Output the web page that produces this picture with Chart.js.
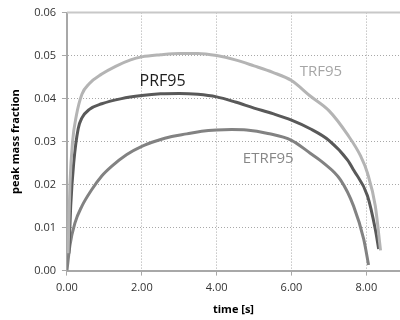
<!DOCTYPE html>
<html>
<head>
<meta charset="utf-8">
<script src="https://cdn.jsdelivr.net/npm/chart.js@4"></script>
<style>
  html, body { margin: 0; padding: 0; background: #fff; }
  #wrap { width: 400px; height: 320px; }
</style>
</head>
<body>
<div id="wrap"><canvas id="myChart" width="400" height="320"></canvas></div>
<script>
// time [s] and peak mass fraction for each curve
var trfTime = [0.03, 0.08, 0.15, 0.25, 0.4, 0.6, 0.93, 1.3, 1.7, 2.0, 2.5, 3.0, 3.5, 4.0, 4.5, 5.0, 5.5, 6.0, 6.5, 7.0, 7.5, 7.85, 8.03, 8.24, 8.38];
var trfValues = [0.004, 0.02, 0.03, 0.036, 0.041, 0.0435, 0.0457, 0.0475, 0.049, 0.0497, 0.0502, 0.0505, 0.0505, 0.050, 0.049, 0.0476, 0.0461, 0.0442, 0.0406, 0.0372, 0.0316, 0.0266, 0.0227, 0.015, 0.0047];

var prfTime = [0.05, 0.1, 0.18, 0.3, 0.4, 0.6, 0.93, 1.46, 2.0, 2.5, 3.0, 3.5, 4.0, 4.5, 5.0, 5.5, 6.0, 6.5, 7.0, 7.5, 7.66, 8.03, 8.24, 8.33];
var prfValues = [0.004, 0.015, 0.025, 0.033, 0.0355, 0.0375, 0.0388, 0.040, 0.0407, 0.0411, 0.0412, 0.0410, 0.0404, 0.0392, 0.0378, 0.0365, 0.035, 0.033, 0.0303, 0.0257, 0.0234, 0.0174, 0.0096, 0.005];

var etrfTime = [0.0, 0.08, 0.21, 0.4, 0.66, 0.93, 1.2, 1.6, 2.0, 2.4, 2.8, 3.2, 3.6, 4.0, 4.4, 4.8, 5.37, 6.0, 6.5, 6.86, 7.31, 7.66, 7.93, 8.06];
var etrfValues = [0.0, 0.0059, 0.011, 0.015, 0.0188, 0.022, 0.0243, 0.027, 0.0289, 0.0302, 0.0312, 0.0318, 0.0324, 0.0327, 0.0328, 0.0327, 0.0319, 0.0303, 0.0273, 0.025, 0.0211, 0.015, 0.0073, 0.0013];

var xTicks = [0, 2, 4, 6, 8];
var yTicks = [0, 0.01, 0.02, 0.03, 0.04, 0.05, 0.06];

// curve names and where they are written
var labelNames = ['TRF95', 'PRF95', 'ETRF95'];
var labelAt = [[6.22, 0.0462], [1.94, 0.0441], [4.7, 0.0259]];

function toPoints(xs, ys) {
    var pts = [];
    for (var i = 0; i < xs.length; i++) pts.push({ x: xs[i], y: ys[i] });
    return pts;
}

var colors = ['#b4b4b4', '#595959', '#828282'];
var labelColors = ['#a6a6a6', '#1e1e1e', '#878787'];
var labelSizes = [15, 16, 15];

var curveLabels = {
    id: 'curveLabels',
    afterDatasetsDraw: function (chart) {
        var ctx = chart.ctx;
        var xs = chart.scales.x, ys = chart.scales.y;
        ctx.save();
        ctx.textBaseline = 'middle';
        ctx.textAlign = 'left';
        for (var i = 0; i < labelNames.length; i++) {
            ctx.font = labelSizes[i] + 'px "Open Sans", sans-serif';
            ctx.fillStyle = labelColors[i];
            ctx.fillText(labelNames[i], xs.getPixelForValue(labelAt[i][0]), ys.getPixelForValue(labelAt[i][1]));
        }
        ctx.restore();
    }
};

var frame = {
    id: 'frame',
    beforeDatasetsDraw: function (chart) {
        var a = chart.chartArea, ctx = chart.ctx;
        ctx.save();
        ctx.strokeStyle = '#c8c8c8';
        ctx.lineWidth = 2;
        ctx.beginPath();
        ctx.moveTo(a.left, a.top);
        ctx.lineTo(a.right, a.top);
        ctx.stroke();
        ctx.restore();
    }
};

var tickFont = { family: '"Open Sans", sans-serif', size: 11 };
var titleFont = { family: '"Open Sans", sans-serif', size: 11, weight: 'bold' };

var ctx = document.getElementById('myChart').getContext('2d');
var myChart = new Chart(ctx, {
    type: 'line',
    data: {
        datasets: [
            { label: 'TRF95', data: toPoints(trfTime, trfValues), borderColor: colors[0] },
            { label: 'PRF95', data: toPoints(prfTime, prfValues), borderColor: colors[1] },
            { label: 'ETRF95', data: toPoints(etrfTime, etrfValues), borderColor: colors[2] }
        ]
    },
    options: {
        responsive: false,
        animation: false,
        layout: { padding: { left: 9, right: 0, top: 1, bottom: 4 } },
        elements: {
            point: { radius: 0 },
            line: { borderWidth: 3, cubicInterpolationMode: 'monotone', fill: false }
        },
        plugins: {
            legend: { display: false },
            tooltip: { enabled: false }
        },
        scales: {
            x: {
                type: 'linear',
                min: 0,
                max: 8.9,
                afterBuildTicks: function (axis) {
                    axis.ticks = xTicks.map(function (v) { return { value: v }; });
                },
                ticks: {
                    color: '#333',
                    font: tickFont,
                    padding: 6,
                    maxRotation: 0,
                    callback: function (v) { return v.toFixed(2); }
                },
                grid: { color: '#a8a8a8', lineWidth: 1, tickLength: 5, tickBorderDash: [] },
                border: { display: true, color: '#a8a8a8', width: 2, dash: [1, 2] },
                title: {
                    display: true,
                    text: 'time [s]',
                    color: '#000',
                    font: titleFont,
                    padding: { top: 2, bottom: 0 }
                }
            },
            y: {
                min: 0,
                max: 0.06,
                afterBuildTicks: function (axis) {
                    axis.ticks = yTicks.map(function (v) { return { value: v }; });
                },
                ticks: {
                    color: '#333',
                    font: tickFont,
                    padding: 6,
                    callback: function (v) { return v.toFixed(2); }
                },
                grid: { color: '#a8a8a8', lineWidth: 1, tickLength: 5, tickBorderDash: [] },
                border: { display: true, color: '#a8a8a8', width: 2, dash: [1, 2] },
                title: {
                    display: true,
                    text: 'peak mass fraction',
                    color: '#000',
                    font: titleFont,
                    padding: { top: 0, bottom: 6 }
                }
            }
        }
    },
    plugins: [curveLabels, frame]
});
</script>
</body>
</html>
